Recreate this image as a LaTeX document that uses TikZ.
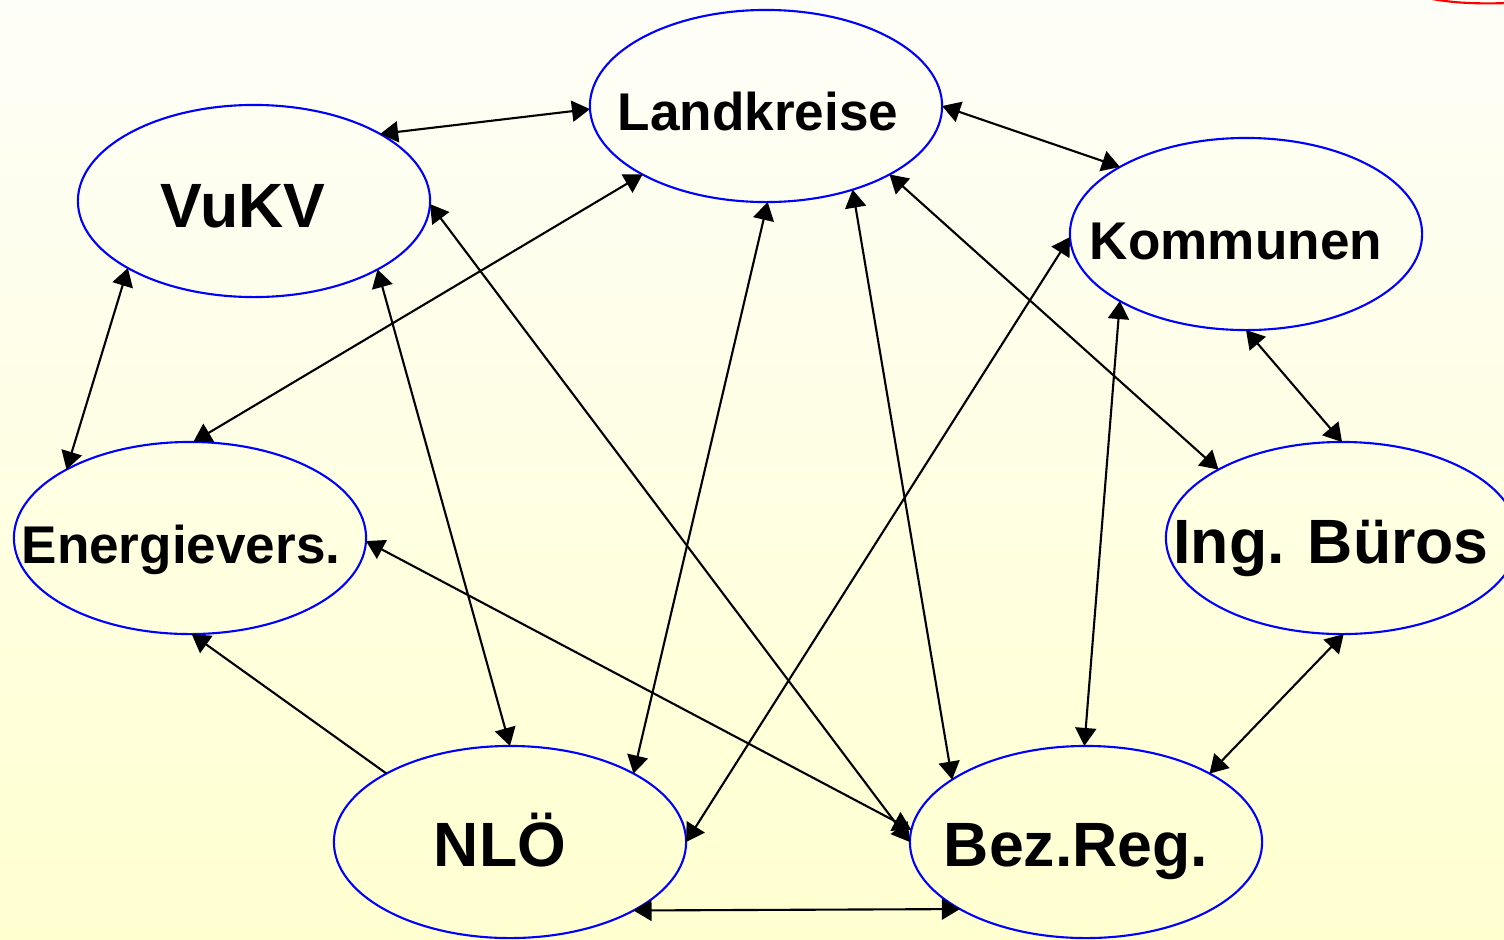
\documentclass[tikz,border=0pt]{standalone}
\usepackage{fontspec}
\setmainfont{Liberation Sans}
\usetikzlibrary{shapes.geometric,arrows.meta}
\begin{document}
\begin{tikzpicture}[x=0.01cm,y=-0.01cm,
  actor/.style={ellipse,draw=blue,line width=0.6pt,minimum width=3.52cm,minimum height=1.92cm,inner sep=0pt,outer sep=0pt},
  lblsmall/.style={anchor=base,font=\fontsize{15.1}{18}\selectfont\bfseries,inner sep=0pt},
  lblbig/.style={anchor=base,font=\fontsize{17.8}{21}\selectfont\bfseries,inner sep=0pt},
  link/.style={line width=0.6pt,{Triangle[length=0.18cm,width=0.21cm]}-{Triangle[length=0.18cm,width=0.21cm]}},
  onelink/.style={line width=0.6pt,-{Triangle[length=0.18cm,width=0.21cm]}}]
\useasboundingbox (0,0) rectangle (1504,939);
\clip (0,0) rectangle (1504,939);
\fill[top color={rgb,255:red,254;green,254;blue,248},bottom color={rgb,255:red,255;green,255;blue,208}] (0,0) rectangle (1504,939);
\draw[red,line width=0.6pt] (1432,-1) .. controls (1455,3) and (1475,4) .. (1510,3);
% ellipses
\node[actor] (land) at (766,106) {};
\node[actor] (vukv) at (254,201) {};
\node[actor] (komm) at (1246,234) {};
\node[actor] (ener) at (190,538) {};
\node[actor] (ing) at (1342,538) {};
\node[actor] (nlo) at (510,842) {};
\node[actor] (bez) at (1086,842) {};
% labels
\node[lblsmall] (tland) at (758,130) {Landkreise};
\node[lblbig] (tvukv) at (243,227) {VuKV};
\node[lblsmall] (tkomm) at (1236,259) {Kommunen};
\node[lblsmall] (tener) at (181,563) {Energievers.};
\node[lblbig] (ting) at (1331,563) {Ing. Büros};
\node[lblbig] (tnlo) at (500,866) {NLÖ};
\node[lblbig] (tbez) at (1076,866) {Bez.Reg.};
% connectors
\draw[link] (vukv.28.7) -- (land.181.7);
\draw[link] (land.0) -- (komm.152.4);
\draw[link] (vukv.208.6) -- (ener.151.3);
\draw[link] (ener.88.8) -- (land.209);
\draw[link] (vukv.-1) -- (bez.180);
\draw[link] (vukv.-29.1) -- (nlo.90);
\draw[link] (land.271) -- (nlo.29.5);
\draw[link] (land.-44.3) -- (bez.155.7);
\draw[link] (land.-29.1) -- (ing.151.6);
\draw[link] (komm.181.9) -- (nlo.0.7);
\draw[link] (komm.208.7) -- (bez.91.8);
\draw[link] (komm.270) -- (ing.90);
\draw[link] (ing.271) -- (bez.29);
\draw[link] (nlo.-29.1) -- (bez.208.4);
\draw[link] (ener.-1.7) -- (bez.176);
\draw[onelink] (nlo.151) -- (ener.271);
\end{tikzpicture}
\end{document}
